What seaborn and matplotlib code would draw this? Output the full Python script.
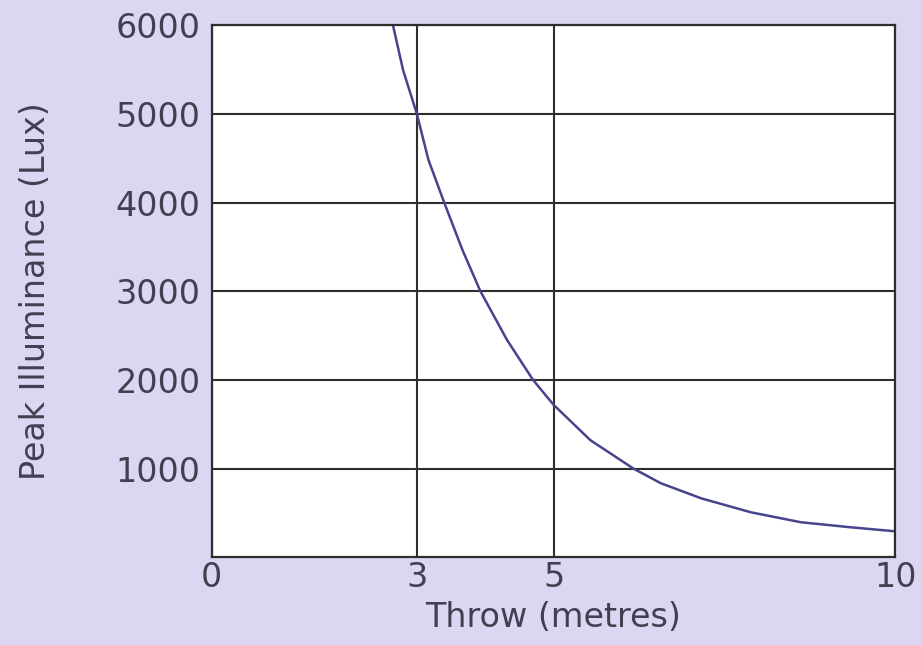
import pandas
import seaborn as sns
import matplotlib.pyplot as plt

# values
throw = [2.65, 2.80, 3.00, 3.17, 3.40, 3.67, 3.93, 4.32, 4.70, 5.00,
         5.54, 6.17, 6.57, 7.16, 7.89, 8.62, 9.35, 10.0]
lux = [6000, 5490, 5000, 4480, 4000, 3460, 3000, 2450, 2000, 1720,
       1320, 1000, 835, 665, 507, 395, 338, 293]
x_ticks = [0, 3, 5, 10]
y_ticks = [1000, 2000, 3000, 4000, 5000, 6000]

dataframe = pandas.DataFrame({"throw": throw, "lux": lux})

sns.set_theme(style="white")
plt.rcParams['font.family'] = ['DejaVu Sans']

bg = "#d9d7f1"
ink = "#404050"

fig = plt.figure(figsize=(9.21, 6.45), dpi=100, facecolor=bg)
ax = fig.add_axes([0.230, 0.136, 0.742, 0.825])
ax.set_facecolor("white")

sns.lineplot(data=dataframe, x="throw", y="lux", ax=ax, color="#46448c", linewidth=1.8)

ax.set_xlim(0, 10)
ax.set_ylim(0, 6000)
ax.set_xticks(x_ticks)
ax.set_yticks(y_ticks)
ax.grid(True, color="#2e2e2e", linewidth=1.5)
for s in ax.spines.values():
    s.set_color("#2e2e2e")
    s.set_linewidth(1.6)
ax.tick_params(axis="both", length=0, labelsize=24, labelcolor=ink)
ax.tick_params(axis="y", pad=8)
ax.tick_params(axis="x", pad=3)
ax.set_xlabel("Throw (metres)", fontsize=24, color=ink, labelpad=5)
ax.set_ylabel("Peak Illuminance (Lux)", fontsize=24, color=ink, labelpad=46)

plt.savefig("out.png", dpi=100, facecolor=bg)
plt.close()
